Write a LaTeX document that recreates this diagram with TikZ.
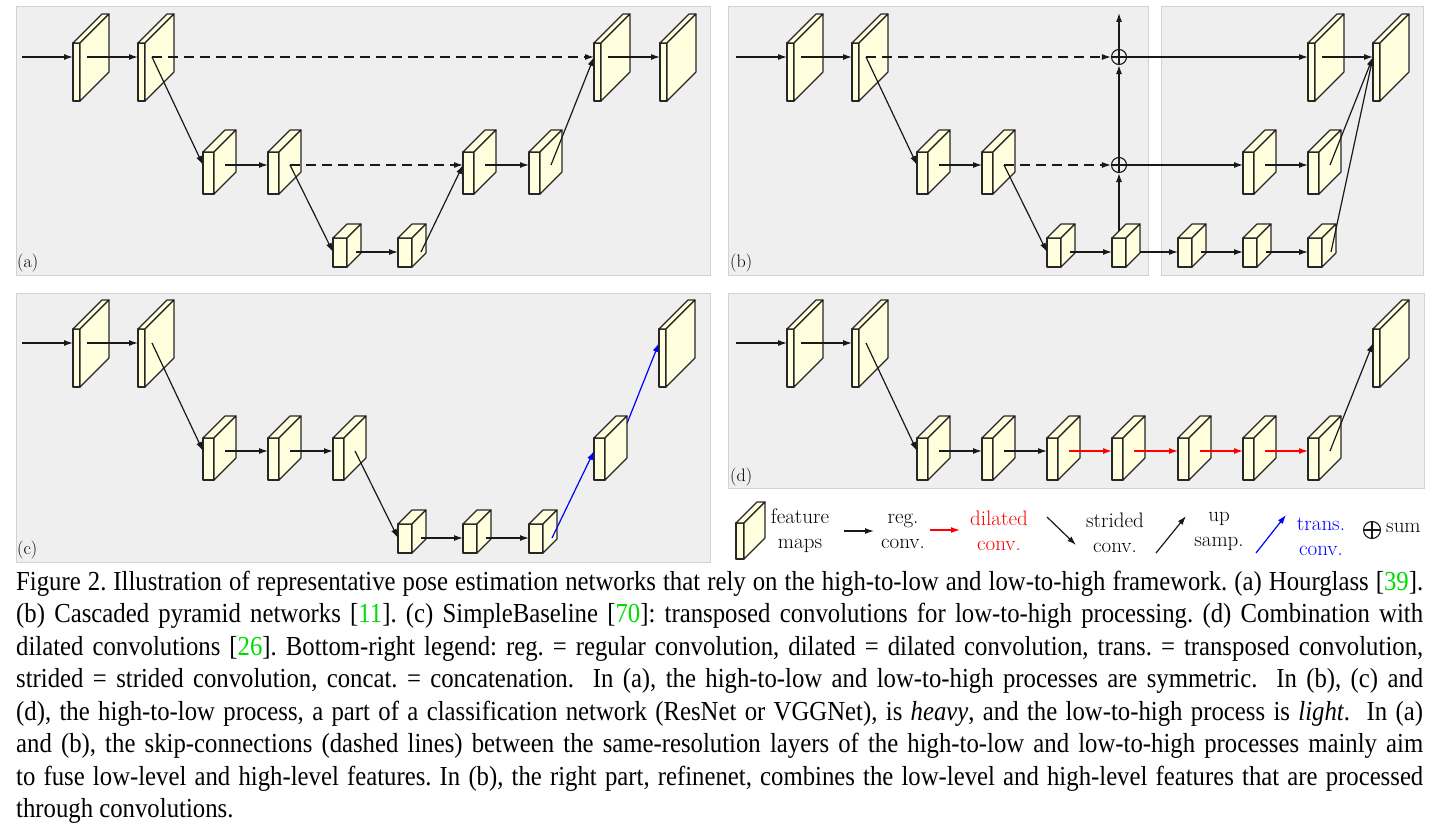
\documentclass[tikz,border=0pt]{standalone}
\usepackage{fontspec}
\newfontfamily\capfont[FakeStretch=0.9]{Liberation Serif}
\usetikzlibrary{arrows.meta}
\definecolor{fmfill}{RGB}{255,255,221}
\definecolor{panelfill}{RGB}{239,239,239}
\definecolor{panelline}{RGB}{210,210,210}
\definecolor{citegreen}{RGB}{0,220,0}
\newcommand{\cg}[1]{\textcolor{citegreen}{#1}}
% feature map: name, x, y (front top), thickness, height, depth, out offset, arrow y offset
\newcommand{\fm}[8]{%
  \filldraw[fmap] (#2,#3) rectangle ++(#4,#5);
  \filldraw[fmap] (#2,#3) -- ++(#4,0) -- ++(#6,-#6) -- ++(-#4,0) -- cycle;
  \filldraw[fmap] ({#2+#4},#3) -- ++(#6,-#6) -- ++(0,#5) -- ++(-#6,#6) -- cycle;
  \coordinate (#1-in) at (#2,{#3+#8});
  \coordinate (#1-out) at ({#2+#7},{#3+#8});
}
\newcommand{\bigfm}[3]{\fm{#1}{#2}{#3}{7}{58}{29}{14}{14}}
\newcommand{\medfm}[3]{\fm{#1}{#2}{#3}{11}{42}{22}{22}{13}}
\newcommand{\smfm}[3]{\fm{#1}{#2}{#3}{14}{29}{14}{23}{14}}
\tikzset{
  fmap/.style={fill=fmfill, draw=black!85, line width=1.1pt, line join=round},
  panel/.style={fill=panelfill, draw=panelline, line width=1pt},
  conn/.style={line width=1.2pt, draw=black!90, -{Latex[length=9pt,width=6pt]}},
  skip/.style={conn, dash pattern=on 10pt off 6pt},
  dil/.style={conn, draw=red},
  trn/.style={conn, draw=blue},
  sumc/.style={circle, draw=black!90, line width=1.1pt, minimum size=15pt, inner sep=0pt,
    path picture={\draw[line width=1.1pt] (path picture bounding box.north) -- (path picture bounding box.south)
      (path picture bounding box.west) -- (path picture bounding box.east);}},
  lab/.style={font=\fontsize{18}{20}\selectfont, inner sep=0pt, anchor=base west},
  leg/.style={font=\fontsize{21}{25}\selectfont, align=center, inner sep=0pt},
  capt/.style={font=\capfont\fontsize{27.5}{32}\selectfont\frenchspacing, inner sep=0pt, anchor=base west},
}
\begin{document}
\begin{tikzpicture}[x=1pt,y=-1pt]
\useasboundingbox (0,0) rectangle (1436,824);
\fill[white] (0,0) rectangle (1436,824);

%% ---------------- panel (a)
\draw[panel] (16,7) rectangle (710,275);
\node[lab] (la) at (17,267) {(a)};
\bigfm{a1}{73}{43}
\bigfm{a2}{138}{43}
\medfm{a3}{203}{152}
\medfm{a4}{268}{152}
\smfm{a5}{333}{238}
\smfm{a6}{398}{238}
\medfm{a7}{463}{152}
\medfm{a8}{529}{152}
\bigfm{a9}{594}{43}
\bigfm{a10}{660}{43}
\coordinate (a0) at (22,57);
\draw[conn] (a0) -- (a1-in);
\draw[conn] (a1-out) -- (a2-in);
\draw[skip] (a2-out) -- (a9-in);
\draw[conn] (a2-out) -- (a3-in);
\draw[conn] (a3-out) -- (a4-in);
\draw[skip] (a4-out) -- (a7-in);
\draw[conn] (a4-out) -- (a5-in);
\draw[conn] (a5-out) -- (a6-in);
\draw[conn] (a6-out) -- (a7-in);
\draw[conn] (a7-out) -- (a8-in);
\draw[conn] (a8-out) -- (a9-in);
\draw[conn] (a9-out) -- (a10-in);

%% ---------------- panel (b)
\draw[panel] (728,7) rectangle (1148,275);
\draw[panel] (1161,7) rectangle (1423,275);
\node[lab] (lb) at (730,267) {(b)};
\coordinate (b6-top) at (1119,231);
\coordinate (b6-right) at (1140,252);
\coordinate (btop) at (1119,13);
\coordinate (b0) at (736,57);
\bigfm{b1}{787}{43}
\bigfm{b2}{852}{43}
\medfm{b3}{917}{152}
\medfm{b4}{982}{152}
\smfm{b5}{1047}{238}
\smfm{b6}{1112}{238}
\smfm{b7}{1178}{238}
\smfm{b8}{1243}{238}
\smfm{b9}{1308}{238}
\medfm{b10}{1243}{152}
\medfm{b11}{1308}{152}
\bigfm{b12}{1308}{43}
\bigfm{b13}{1373}{43}
\node[sumc] (s1) at (1119,57) {};
\node[sumc] (s2) at (1119,165) {};
\draw[conn] (b0) -- (b1-in);
\draw[conn] (b1-out) -- (b2-in);
\draw[skip] (b2-out) -- (s1.west);
\draw[conn] (b2-out) -- (b3-in);
\draw[conn] (b3-out) -- (b4-in);
\draw[skip] (b4-out) -- (s2.west);
\draw[conn] (b4-out) -- (b5-in);
\draw[conn] (b5-out) -- (b6-in);
\draw[conn] (b6-top) -- (s2.south);
\draw[conn] (s2.north) -- (s1.south);
\draw[conn] (s1.north) -- (btop);
\draw[conn] (s1.east) -- (b12-in);
\draw[conn] (b12-out) -- (b13-in);
\draw[conn] (s2.east) -- (b10-in);
\draw[conn] (b10-out) -- (b11-in);
\draw[conn] (b11-out) -- (b13-in);
\draw[conn] (b6-right) -- (b7-in);
\draw[conn] (b7-out) -- (b8-in);
\draw[conn] (b8-out) -- (b9-in);
\draw[conn] (b9-out) -- (b13-in);

%% ---------------- panel (c)
\draw[panel] (16,293) rectangle (710,562);
\node[lab] (lc) at (17,554) {(c)};
\coordinate (c0) at (22,343);
\coordinate (c9-out) at (616,451);
\coordinate (c10-in) at (659,343);
\draw[trn] (c9-out) -- (c10-in);
\bigfm{c1}{73}{329}
\bigfm{c2}{138}{329}
\medfm{c3}{203}{438}
\medfm{c4}{268}{438}
\medfm{c5}{333}{438}
\smfm{c6}{398}{524}
\smfm{c7}{463}{524}
\smfm{c8}{529}{524}
\medfm{c9}{594}{438}
\bigfm{c10}{659}{329}
\draw[conn] (c0) -- (c1-in);
\draw[conn] (c1-out) -- (c2-in);
\draw[conn] (c2-out) -- (c3-in);
\draw[conn] (c3-out) -- (c4-in);
\draw[conn] (c4-out) -- (c5-in);
\draw[conn] (c5-out) -- (c6-in);
\draw[conn] (c6-out) -- (c7-in);
\draw[conn] (c7-out) -- (c8-in);
\draw[trn] (c8-out) -- (c9-in);

%% ---------------- panel (d)
\draw[panel] (728,293) rectangle (1424,488);
\node[lab] (ld) at (730,481) {(d)};
\coordinate (d0) at (736,343);
\bigfm{d1}{787}{329}
\bigfm{d2}{852}{329}
\medfm{d3}{917}{438}
\medfm{d4}{982}{438}
\medfm{d5}{1047}{438}
\medfm{d6}{1112}{438}
\medfm{d7}{1178}{438}
\medfm{d8}{1243}{438}
\medfm{d9}{1308}{438}
\bigfm{d10}{1373}{329}
\draw[conn] (d0) -- (d1-in);
\draw[conn] (d1-out) -- (d2-in);
\draw[conn] (d2-out) -- (d3-in);
\draw[conn] (d3-out) -- (d4-in);
\draw[conn] (d4-out) -- (d5-in);
\draw[dil] (d5-out) -- (d6-in);
\draw[dil] (d6-out) -- (d7-in);
\draw[dil] (d7-out) -- (d8-in);
\draw[dil] (d8-out) -- (d9-in);
\draw[conn] (d9-out) -- (d10-in);

%% ---------------- legend
\fm{lg}{736}{523}{8}{36}{21}{0}{0}
\node[leg] (tfm) at (800,531) {feature\\maps};
\coordinate (r1) at (844,531); \coordinate (r2) at (874,531);
\draw[conn] (r1) -- (r2);
\node[leg] (treg) at (903,531) {reg.\\conv.};
\coordinate (dl1) at (930,530); \coordinate (dl2) at (960,530);
\draw[dil] (dl1) -- (dl2);
\node[leg, text=red] (tdil) at (999,531) {dilated\\conv.};
\coordinate (st1) at (1047,517); \coordinate (st2) at (1076,545);
\draw[conn] (st1) -- (st2);
\node[leg] (tstr) at (1115,533) {strided\\conv.};
\coordinate (up1) at (1156,553); \coordinate (up2) at (1186,516);
\draw[conn] (up1) -- (up2);
\node[leg] (tup) at (1219,531) {up\\samp.};
\coordinate (tr1) at (1256,553); \coordinate (tr2) at (1286,515);
\draw[trn] (tr1) -- (tr2);
\node[leg, text=blue] (ttr) at (1321,537) {trans.\\conv.};
\node[sumc, minimum size=17pt] (lsum) at (1372,530) {};
\node[leg, anchor=west] (tsum) at (1386,528) {sum};

%% ---------------- caption
\node[capt] (cap1) at (16,590) {\makebox[1407pt][s]{Figure 2. Illustration of representative pose estimation networks that rely on the high-to-low and low-to-high framework. (a) Hourglass [\cg{39}].}};
\node[capt] (cap2) at (16,622.5) {\makebox[1407pt][s]{(b) Cascaded pyramid networks [\cg{11}]. (c) SimpleBaseline [\cg{70}]: transposed convolutions for low-to-high processing. (d) Combination with}};
\node[capt] (cap3) at (16,655) {\makebox[1407pt][s]{dilated convolutions [\cg{26}]. Bottom-right legend: reg. = regular convolution, dilated = dilated convolution, trans. = transposed convolution,}};
\node[capt] (cap4) at (16,687.5) {\makebox[1407pt][s]{strided = strided convolution, concat. = concatenation. \ In (a), the high-to-low and low-to-high processes are symmetric. \ In (b), (c) and}};
\node[capt] (cap5) at (16,720) {\makebox[1407pt][s]{(d), the high-to-low process, a part of a classification network (ResNet or VGGNet), is \textit{heavy}, and the low-to-high process is \textit{light}. \ In (a)}};
\node[capt] (cap6) at (16,752.5) {\makebox[1407pt][s]{and (b), the skip-connections (dashed lines) between the same-resolution layers of the high-to-low and low-to-high processes mainly aim}};
\node[capt] (cap7) at (16,785) {\makebox[1407pt][s]{to fuse low-level and high-level features. In (b), the right part, refinenet, combines the low-level and high-level features that are processed}};
\node[capt] (cap8) at (16,817.5) {through convolutions.};
\end{tikzpicture}
\end{document}
